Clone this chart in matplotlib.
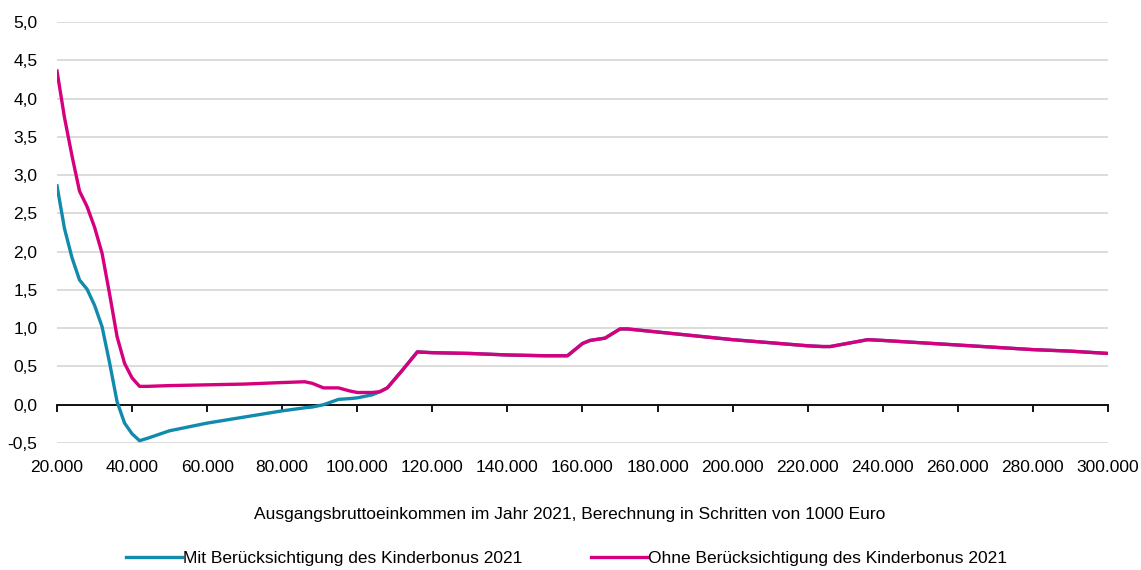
import numpy as np
import matplotlib.pyplot as plt
from matplotlib.ticker import FuncFormatter, MultipleLocator

plt.rcParams['font.family'] = ['Liberation Sans', 'DejaVu Sans']

# income in euro
x_vals = [20000, 22000, 24000, 26000, 28000, 30000, 32000, 34000, 36000, 38000,
          40000, 42000, 44000, 50000, 60000, 70000, 80000, 86000, 88000, 91000,
          95000, 98000, 100000, 104000, 106000, 108000, 112000, 116000, 120000,
          130000, 140000, 150000, 156000, 160000, 162000, 166000, 170000, 172000,
          180000, 190000, 200000, 210000, 220000, 224000, 226000, 236000, 240000,
          250000, 260000, 270000, 280000, 290000, 300000]

ohne = [4.36, 3.75, 3.25, 2.79, 2.59, 2.32, 1.98, 1.45, 0.89, 0.54,
        0.35, 0.24, 0.24, 0.25, 0.26, 0.27, 0.29, 0.30, 0.28, 0.22,
        0.22, 0.18, 0.16, 0.16, 0.17, 0.22, 0.45, 0.69, 0.68,
        0.67, 0.65, 0.64, 0.64, 0.80, 0.84, 0.87, 0.99, 0.99,
        0.95, 0.90, 0.85, 0.81, 0.77, 0.76, 0.76, 0.85, 0.84,
        0.81, 0.78, 0.75, 0.72, 0.70, 0.67]

mit = [2.86, 2.30, 1.92, 1.63, 1.51, 1.30, 1.02, 0.55, 0.04, -0.24,
       -0.38, -0.47, -0.44, -0.34, -0.24, -0.16, -0.08, -0.04, -0.03, 0.00,
       0.07, 0.08, 0.09, 0.13, 0.17, 0.22, 0.45, 0.69, 0.68,
       0.67, 0.65, 0.64, 0.64, 0.80, 0.84, 0.87, 0.99, 0.99,
       0.95, 0.90, 0.85, 0.81, 0.77, 0.76, 0.76, 0.85, 0.84,
       0.81, 0.78, 0.75, 0.72, 0.70, 0.67]

label_mit = "Mit Berücksichtigung des Kinderbonus 2021"
label_ohne = "Ohne Berücksichtigung des Kinderbonus 2021"
x_title = "Ausgangsbruttoeinkommen im Jahr 2021, Berechnung in Schritten von 1000 Euro"

teal = "#118aae"
magenta = "#d6007f"
fs = 12.5

fig = plt.figure(figsize=(11.41, 5.70), dpi=100)
ax = fig.add_axes((0.04996, 0.2228, 0.9211, 0.7386))

ax.plot(x_vals, mit, color=teal, lw=2.4, label=label_mit, zorder=3)
ax.plot(x_vals, ohne, color=magenta, lw=2.4, label=label_ohne, zorder=4)

ax.set_xlim(20000, 300000)
ax.set_ylim(-0.5, 5.0)
ax.yaxis.set_major_locator(MultipleLocator(0.5))
ax.xaxis.set_major_locator(MultipleLocator(20000))
ax.yaxis.set_major_formatter(FuncFormatter(lambda v, p: f"{v:.1f}".replace(".", ",")))
ax.grid(axis='y', color='#d9d9d9', lw=1.3, zorder=0)

for s in ['left', 'right', 'top']:
    ax.spines[s].set_visible(False)
ax.spines['bottom'].set_position(('data', 0))
ax.spines['bottom'].set_linewidth(1.3)
ax.tick_params(axis='x', direction='out', length=5, width=1.3, labelbottom=False)
ax.tick_params(axis='y', length=0, pad=14, labelsize=fs)

# labels of the x axis sit below the plot area
sec = ax.secondary_xaxis('bottom')
sec.xaxis.set_major_locator(MultipleLocator(20000))
sec.xaxis.set_major_formatter(FuncFormatter(lambda v, p: f"{int(v):,}".replace(",", ".")))
sec.tick_params(length=0, pad=12, labelsize=fs)
sec.spines['bottom'].set_visible(False)

fig.text(0.4996, 0.0965, x_title, ha='center', va='center', fontsize=fs)

fig.legend(loc='center', bbox_to_anchor=(0.4965, 0.021), ncol=2, frameon=False,
           fontsize=fs, handlelength=3.25, handletextpad=0.08, columnspacing=3.9,
           borderpad=0, borderaxespad=0)

fig.savefig("out.png", dpi=100)
